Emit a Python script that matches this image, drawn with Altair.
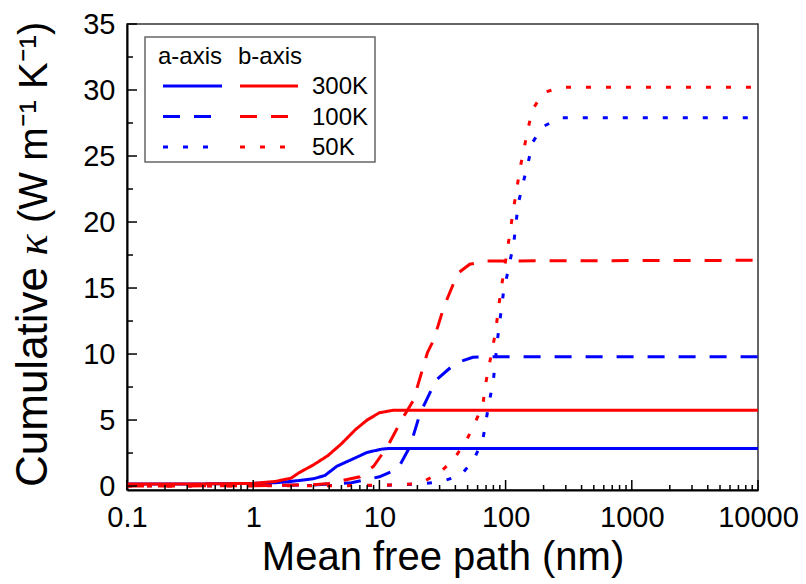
import altair as alt
import pandas as pd

# Cumulative thermal conductivity vs. phonon mean free path
a300_x = [0.1, 0.3, 1, 1.5, 2, 3, 3.7, 4.6, 6, 8, 10.5, 12, 10000]
a300_y = [0.15, 0.15, 0.2, 0.25, 0.35, 0.55, 0.8, 1.5, 2.0, 2.55, 2.8, 2.85, 2.85]

b300_x = [0.1, 0.3, 1, 1.5, 2, 2.3, 3, 3.9, 5, 6.5, 8, 10, 13, 10000]
b300_y = [0.15, 0.15, 0.2, 0.35, 0.6, 1.0, 1.6, 2.3, 3.2, 4.3, 5.0, 5.55, 5.75, 5.75]

a100_x = [0.1, 1, 3, 6, 10, 14, 17.5, 21, 28, 40, 55, 75, 10000]
a100_y = [0.05, 0.05, 0.08, 0.25, 0.7, 1.3, 3.0, 5.5, 8.0, 9.3, 9.75, 9.8, 9.8]

b100_x = [0.1, 1, 3, 4, 7, 9, 11.6, 15, 18.6, 24, 27, 32.5, 41.7, 52, 72, 10000]
b100_y = [0.0, 0.02, 0.1, 0.2, 0.7, 1.5, 3.0, 5.0, 6.5, 10.1, 11.1, 13.6, 16.1, 16.8, 17.05, 17.1]

a50_x = [0.1, 10, 21, 30, 44, 56, 66, 73, 80, 86, 96, 116, 126, 138, 151, 163, 195, 274, 10000]
a50_y = [0.02, 0.05, 0.15, 0.3, 0.8, 2.0, 3.5, 6.0, 8.0, 11.0, 14.6, 18.4, 21.4, 23.0, 24.5, 26.0, 27.2, 27.9, 27.9]

b50_x = [0.1, 5, 15, 21, 30, 38.6, 48, 56, 66, 69, 83, 91, 104, 116, 131, 150, 163, 199, 274, 10000]
b50_y = [0.0, 0.02, 0.1, 0.2, 1.0, 2.0, 3.3, 4.6, 6.1, 7.6, 11.6, 14.6, 18.1, 21.1, 24.2, 27.0, 28.5, 29.8, 30.2, 30.2]

series = [
    ("a300", "a-axis", "300K", a300_x, a300_y),
    ("a100", "a-axis", "100K", a100_x, a100_y),
    ("a50", "a-axis", "50K", a50_x, a50_y),
    ("b300", "b-axis", "300K", b300_x, b300_y),
    ("b100", "b-axis", "100K", b100_x, b100_y),
    ("b50", "b-axis", "50K", b50_x, b50_y),
]

x_major = [0.1, 1, 10, 100, 1000, 10000]
x_minor = [m * d for d in [0.1, 1, 10, 100, 1000] for m in range(2, 10)]
y_major = [0, 5, 10, 15, 20, 25, 30, 35]
y_minor = [2.5, 7.5, 12.5, 17.5, 22.5, 27.5, 32.5]

temps = ["300K", "100K", "50K"]
axes_names = ["a-axis", "b-axis"]

rows = []
for key, ax, t, xs, ys in series:
    for xv, yv in zip(xs, ys):
        rows.append({"key": key, "axis": ax, "temp": t, "mfp": xv, "kappa": yv})
df = pd.DataFrame(rows)

W, H = 631, 466
FONT = "Liberation Sans"
BLUE, RED = "#0000ff", "#ff0000"
DASHES = [[1, 0], [17, 14], [5, 15]]

xscale = alt.Scale(type="log", domain=[0.1, 10000], nice=False)
yscale = alt.Scale(domain=[-0.3, 35], nice=False, zero=False)

lines = alt.Chart(df).mark_line(strokeWidth=3, clip=True).encode(
    x=alt.X("mfp:Q", scale=xscale,
            axis=alt.Axis(values=x_major, format="~g", ticks=False, grid=False,
                          labelFontSize=29, labelPadding=13, labelFont=FONT,
                          labelColor="black", labelFlush=False,
                          title="Mean free path (nm)", titleFontSize=40,
                          titleFont=FONT, titleFontWeight="normal",
                          titleColor="black", titleY=79,
                          titleBaseline="alphabetic",
                          domainColor="black", domainWidth=2)),
    y=alt.Y("kappa:Q", scale=yscale,
            axis=alt.Axis(values=y_major, ticks=False, grid=False,
                          labelFontSize=29, labelPadding=12, labelFont=FONT,
                          labelColor="black", title=None,
                          domainColor="black", domainWidth=2)),
    color=alt.Color("axis:N", scale=alt.Scale(domain=axes_names, range=[BLUE, RED]), legend=None),
    strokeDash=alt.StrokeDash("temp:N", scale=alt.Scale(domain=temps, range=DASHES), legend=None),
    detail="key:N",
)

# inward ticks (same field names so they share the axes above)
def xticks(vals, length):
    return alt.Chart(pd.DataFrame({"mfp": vals})).mark_rule(color="black", strokeWidth=1.5).encode(
        x=alt.X("mfp:Q", scale=xscale),
        y=alt.value(H), y2=alt.value(H - length),
    )

def yticks(vals, length):
    return alt.Chart(pd.DataFrame({"kappa": vals})).mark_rule(color="black", strokeWidth=1.5).encode(
        y=alt.Y("kappa:Q", scale=yscale),
        x=alt.value(0), x2=alt.value(length),
    )

ticks = [xticks(x_major, 10), xticks(x_minor, 5), yticks(y_major, 10), yticks(y_minor, 6)]

one = pd.DataFrame({"k": [0]})

# rotated y title in three pieces so that kappa can be set in italic serif
def ytitle_piece(text, ypos, font, size, style="normal", align="left"):
    return alt.Chart(one).mark_text(text=text, font=font, fontSize=size, fontStyle=style,
                                    angle=270, align=align, baseline="alphabetic",
                                    color="black").encode(
        x=alt.value(-80), y=alt.value(ypos))

ytitle = [
    ytitle_piece("Cumulative", 463, FONT, 44),
    ytitle_piece("κ", 221, "Liberation Serif", 44, style="italic", align="center"),
    ytitle_piece("(W m⁻¹ K⁻¹)", 199, FONT, 40),
]

# hand-built two-column legend
legend = [
    alt.Chart(one).mark_rect(fill="white", stroke="#666", strokeWidth=1.5).encode(
        x=alt.value(18), x2=alt.value(248), y=alt.value(13), y2=alt.value(138))
]
for label, xpos in zip(axes_names, [31, 111]):
    legend.append(alt.Chart(one).mark_text(text=label, font=FONT, fontSize=24, align="left",
                                           baseline="alphabetic", color="black").encode(
        x=alt.value(xpos), y=alt.value(40)))
for i, t in enumerate(temps):
    ypos = 62 + 30.5 * i
    for colr, (x0, x1) in zip([BLUE, RED], [(36, 95), (113, 171)]):
        legend.append(alt.Chart(one).mark_rule(color=colr, strokeWidth=3,
                                               strokeDash=DASHES[i]).encode(
            x=alt.value(x0), x2=alt.value(x1), y=alt.value(ypos)))
    legend.append(alt.Chart(one).mark_text(text=t, font=FONT, fontSize=24, align="left",
                                           baseline="middle", color="black").encode(
        x=alt.value(185), y=alt.value(ypos + 1)))

chart = alt.layer(lines, *ticks, *ytitle, *legend).properties(
    width=W, height=H,
    autosize=alt.AutoSizeParams(type="none"),
    padding={"left": 127, "top": 24, "right": 48, "bottom": 94},
    background="white",
).configure_view(stroke="#333", strokeWidth=1.5)

chart.save("out.html", embed_options={"renderer": "svg", "actions": False})
